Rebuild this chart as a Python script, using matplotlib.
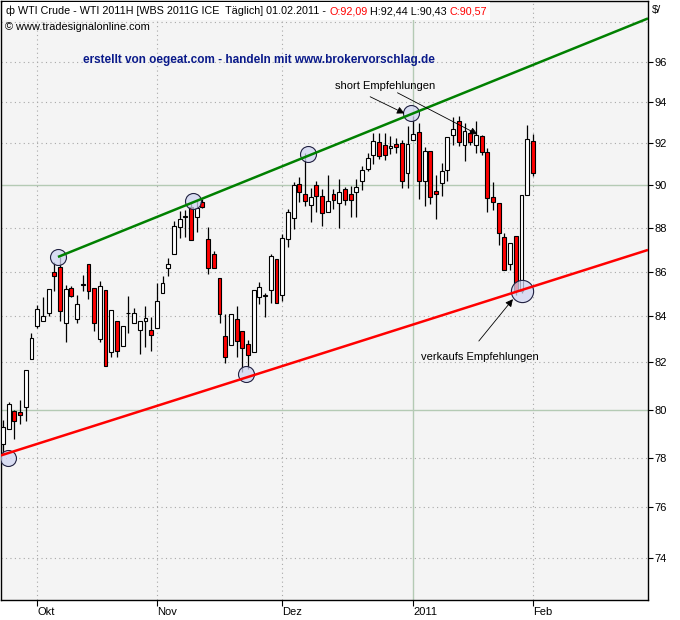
import matplotlib
matplotlib.use("Agg")
import matplotlib.pyplot as plt
import numpy as np
import pandas as pd

# === DATEN ===
DATES = pd.bdate_range("2010-09-23", "2011-02-01")
OPEN = [78.55, 79.18, 79.92, 79.88, 80.09, 82.13, 83.60, 83.82, 84.17, 85.96,
        86.19, 83.69, 85.26, 83.87, 85.41, 86.33, 85.26, 83.02, 85.17, 82.45,
        83.82, 82.71, 84.13, 83.73, 83.42, 83.78, 83.42, 83.51, 85.04, 86.14,
        86.79, 88.05, 88.51, 88.98, 88.51, 89.21, 87.49, 86.79, 85.70, 83.16,
        82.76, 83.87, 83.38, 82.80, 82.45, 84.87, 84.91, 85.17, 86.56, 84.96,
        87.49, 88.47, 90.05, 89.58, 89.07, 90.00, 89.49, 88.74, 89.58, 89.16,
        89.81, 89.58, 89.67, 90.20, 90.73, 91.41, 92.05, 91.90, 91.76, 91.95,
        92.00, 90.54, 92.14, 92.52, 90.20, 91.61, 89.72, 90.10, 90.68, 92.38,
        93.05, 91.90, 92.48, 91.90, 92.33, 91.56, 89.44, 89.16, 87.58, 86.33,
        87.63, 85.13, 89.53, 92.09]
HIGH = [79.57, 80.30, 80.00, 80.38, 81.66, 83.29, 84.52, 84.87, 85.22, 86.42,
        86.65, 85.39, 85.35, 84.96, 85.83, 86.33, 85.26, 85.57, 85.17, 84.30,
        83.82, 83.60, 84.91, 84.39, 83.82, 84.44, 83.96, 85.48, 85.78, 86.61,
        88.33, 88.79, 88.84, 89.21, 89.26, 89.35, 88.05, 86.93, 85.70, 84.09,
        84.09, 84.48, 83.38, 82.98, 85.17, 85.52, 85.04, 86.79, 86.56, 87.72,
        88.88, 90.15, 90.39, 91.51, 89.86, 90.20, 89.81, 90.44, 89.81, 90.29,
        89.90, 89.95, 90.29, 90.88, 91.51, 92.50, 92.50, 92.50, 92.33, 92.24,
        92.14, 92.81, 93.29, 92.95, 91.80, 91.61, 90.44, 91.02, 92.29, 93.24,
        93.29, 92.95, 92.62, 93.05, 92.38, 91.76, 90.15, 89.16, 87.77, 87.30,
        87.63, 89.53, 92.86, 92.44]
LOW = [78.12, 79.18, 78.78, 79.41, 79.53, 82.13, 83.51, 83.82, 84.00, 85.13,
       83.82, 82.89, 84.87, 83.73, 85.13, 84.78, 83.38, 82.89, 81.83, 82.22,
       82.22, 82.71, 83.29, 83.73, 82.36, 82.67, 82.49, 83.51, 85.04, 85.78,
       86.79, 87.54, 87.58, 87.44, 87.81, 88.93, 85.91, 86.14, 83.73, 81.96,
       82.76, 82.22, 81.57, 81.70, 82.45, 84.56, 83.96, 84.61, 84.61, 84.70,
       87.12, 87.95, 89.21, 89.02, 88.28, 88.74, 88.09, 88.74, 88.88, 88.00,
       89.07, 88.51, 88.51, 89.77, 90.63, 90.98, 91.22, 91.17, 91.46, 91.51,
       89.86, 89.86, 92.14, 89.35, 89.02, 89.12, 88.42, 89.49, 90.20, 91.90,
       91.85, 91.12, 91.90, 91.51, 91.41, 88.74, 88.84, 87.21, 86.09, 86.09,
       84.96, 85.04, 89.53, 90.43]
CLOSE = [79.26, 80.25, 79.53, 79.76, 81.66, 83.07, 84.35, 84.04, 85.22, 85.78,
         84.26, 85.22, 84.91, 84.56, 85.40, 85.13, 83.69, 85.35, 81.83, 84.30,
         82.49, 83.60, 84.13, 84.13, 83.82, 83.91, 83.20, 84.70, 85.48, 86.33,
         88.09, 88.42, 88.51, 87.44, 88.93, 88.98, 86.14, 86.14, 84.09, 82.22,
         84.09, 82.93, 82.62, 82.31, 85.17, 85.30, 84.91, 86.70, 84.61, 87.54,
         88.74, 90.00, 89.67, 89.26, 89.44, 89.49, 88.70, 89.26, 89.30, 89.67,
         89.30, 89.30, 89.90, 90.68, 91.27, 92.09, 91.37, 91.41, 91.85, 91.80,
         90.20, 91.95, 92.43, 90.20, 91.61, 89.44, 89.58, 90.63, 92.29, 92.67,
         92.05, 92.57, 92.05, 92.38, 91.56, 89.40, 89.21, 87.77, 86.09, 87.30,
         85.13, 89.53, 92.19, 90.57]

# Trendlinien (Balkenindex, Preis)
UPPER_LINE_X = [9.65, 113.2]
UPPER_LINE_Y = [86.66, 98.2]
LOWER_LINE_X = [-0.35, 113.2]
LOWER_LINE_Y = [78.1, 86.98]

# Markierte Beruehrungspunkte
TOUCH_X = [0.88, 9.65, 33.3, 53.5, 71.6, 42.6]
TOUCH_Y = [78.0, 86.66, 89.25, 91.48, 93.47, 81.49]
BIG_TOUCH_X = [91.05]
BIG_TOUCH_Y = [85.12]

MONTH_NAMES = {10: "Okt", 11: "Nov", 12: "Dez", 1: "2011", 2: "Feb"}
Y_TICKS = [74, 76, 78, 80, 82, 84, 86, 88, 90, 92, 94, 96]
GRID_Y = [74, 76, 78, 82, 84, 86, 88, 92, 94, 96, 98]
SOLID_GRID_Y = [80, 90]

HEADER = "\u0444 WTI Crude - WTI 2011H [WBS 2011G ICE  T\u00e4glich] 01.02.2011 - O:92,09 H:92,44 L:90,43 C:90,57"
HEADER_PARTS = [("\u0444 WTI Crude - WTI 2011H [WBS 2011G ICE  T\u00e4glich] 01.02.2011 -", "black"),
                ("O:92,09", "red"), ("H:92,44 L:90,43", "black"), ("C:90,57", "red")]

FONT = "Liberation Sans"
W, H = 680, 620

x = np.arange(len(DATES))
month_idx = [i for i in range(1, len(DATES)) if DATES[i].month != DATES[i - 1].month]
month_lbl = [MONTH_NAMES[DATES[i].month] for i in month_idx]

fig = plt.figure(figsize=(6.8, 6.2), dpi=100)
fig.patch.set_facecolor("white")
ax = fig.add_axes([1 / W, 20 / H, 647 / W, 599 / H])
ax.set_facecolor("#f4f4f4")
ax.set_yscale("log")
ax.set_xlim(-0.35, 113.2)
ax.set_ylim(72.4, 99.1)

# Gitter
for g in GRID_Y:
    ax.axhline(g, color="#a8a8a8", lw=0.8, ls=(0, (1, 3)), zorder=1)
for g in SOLID_GRID_Y:
    ax.axhline(g, color="#b4cab4", lw=1.0, zorder=1)
for i, lbl in zip(month_idx, month_lbl):
    if lbl == "2011":
        ax.axvline(i, color="#b4cab4", lw=1.0, zorder=1)
    else:
        ax.axvline(i, color="#a8a8a8", lw=0.8, ls=(0, (1, 3)), zorder=1)

# Kerzen
opens = np.array(OPEN)
closes = np.array(CLOSE)
ax.vlines(x, LOW, HIGH, color="black", lw=0.9, zorder=3)
up = closes >= opens
body_lo = np.minimum(opens, closes)
body_h = np.abs(closes - opens)
body_h = np.where(body_h < 0.02, 0.02, body_h)
ax.bar(x, body_h, bottom=body_lo, width=0.68,
       color=np.where(up, "white", "#ff0000"), edgecolor="black", lw=0.8, zorder=4)

# Markierungen
ax.plot(TOUCH_X, TOUCH_Y, "o", ms=11.5, mfc=(0.82, 0.84, 0.95, 0.75),
        mec="#202040", mew=0.8, zorder=5)
ax.plot(BIG_TOUCH_X, BIG_TOUCH_Y, "o", ms=16, mfc=(0.82, 0.84, 0.95, 0.75),
        mec="#202040", mew=0.8, zorder=5)

# Trendkanal
ax.plot(UPPER_LINE_X, UPPER_LINE_Y, color="#008000", lw=1.8, zorder=6, solid_capstyle="butt")
ax.plot(LOWER_LINE_X, LOWER_LINE_Y, color="#ff0000", lw=1.8, zorder=6, solid_capstyle="butt")

# Pfeile / Texte
arrow = dict(arrowstyle="-|>", color="black", lw=0.6, mutation_scale=11)
ax.text(67.0, 94.76, "short Empfehlungen", ha="center", va="center",
        fontsize=8, family=FONT, zorder=7)
ax.annotate("", xy=(70.9, 93.37), xytext=(64.0, 94.31), arrowprops=arrow, zorder=7)
ax.annotate("", xy=(83.7, 92.35), xytext=(68.8, 94.51), arrowprops=arrow, zorder=7)
ax.text(83.7, 82.22, "verkaufs Empfehlungen", ha="center", va="center",
        fontsize=8, family=FONT, zorder=7)
ax.annotate("", xy=(89.8, 84.86), xytext=(83.2, 82.83), arrowprops=arrow, zorder=7)

# Achsen
ax.yaxis.tick_right()
ax.yaxis.set_minor_locator(matplotlib.ticker.NullLocator())
ax.set_yticks(Y_TICKS)
ax.set_yticklabels([str(v) for v in Y_TICKS], family=FONT, fontsize=8)
ax.tick_params(axis="y", direction="out", length=3.5, width=0.8, pad=1)
ax.set_xticks(month_idx)
ax.set_xticklabels(month_lbl, ha="left", family=FONT, fontsize=8)
ax.tick_params(axis="x", direction="out", length=4, width=0.8, pad=1)
for s in ax.spines.values():
    s.set_color("black")
    s.set_linewidth(1.0)


def px(xp, yp):
    return xp / W, 1 - yp / H


# Kopfzeile: Teile nebeneinander, weisser Kasten dahinter
HDR_SIZE = 7.75
fig.text(*px(652, 10), "$/", fontsize=8, family=FONT, va="center")
fig.canvas.draw()
r = fig.canvas.get_renderer()


def text_width(s):
    t = fig.text(0, 0, s, fontsize=HDR_SIZE, family=FONT)
    w = t.get_window_extent(r).width
    t.remove()
    return w


fig.patches.append(plt.Rectangle(px(3, 20), (text_width(HEADER) + 6) / W, 18 / H,
                                 transform=fig.transFigure, facecolor="white",
                                 edgecolor="none", zorder=9))
for part, col in HEADER_PARTS:
    prefix = HEADER[:HEADER.index(part) + 1]
    xoff = text_width(prefix) - text_width(part[0])
    fig.text(*px(6 + xoff, 11), part, fontsize=HDR_SIZE, family=FONT, va="center",
             color=col, zorder=10)

fig.text(*px(5, 27), "\u00a9 www.tradesignalonline.com", fontsize=7.9, family=FONT, va="center")
fig.text(*px(83, 60), "erstellt von oegeat.com - handeln mit www.brokervorschlag.de",
         fontsize=8.5, family=FONT, fontweight="bold", color="#0a1a8a", va="center")

fig.savefig("out.png", dpi=100)
